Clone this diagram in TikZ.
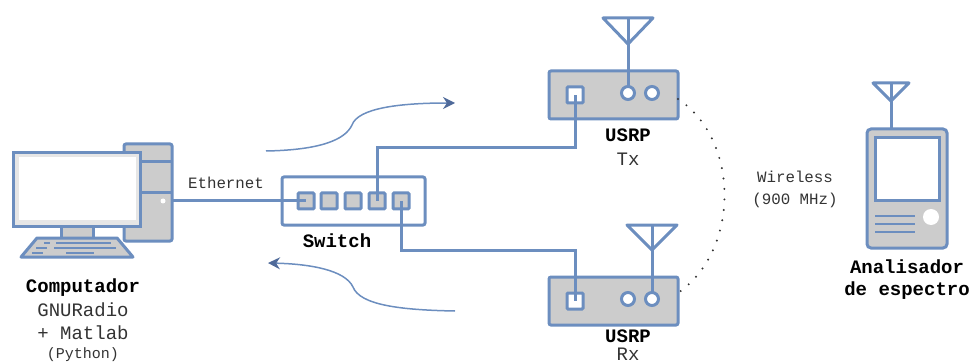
\documentclass[tikz,border=0pt]{standalone}
\usepackage{fontspec}
\setmonofont{Liberation Mono}
\usetikzlibrary{arrows.meta}
\definecolor{edge}{HTML}{6C8EBF}
\definecolor{flow}{HTML}{4F6A9A}
\definecolor{body}{HTML}{CCCCCC}
\definecolor{txt}{HTML}{333333}
\tikzset{
  every node/.style={inner sep=0pt, outer sep=0pt},
  unit/.style={draw=edge, fill=body, line width=3pt, rounded corners=2pt},
  box/.style={unit, minimum width=#1, minimum height=48pt},
  port/.style={unit, rounded corners=1pt, minimum size=16pt},
  hole/.style={port, fill=white},
  jack/.style={draw=edge, fill=white, line width=3pt, circle, minimum size=13pt},
  wire/.style={draw=edge, line width=3pt},
  flowline/.style={draw=edge, line width=1.5pt, -{Stealth[length=12pt,width=12pt,color=flow]}},
  titletxt/.style={font=\fontsize{19}{19}\selectfont\ttfamily\bfseries, text=black},
  subtxt/.style={font=\fontsize{19}{19}\selectfont\ttfamily, text=txt},
  smalltxt/.style={font=\fontsize{15.8}{16}\selectfont\ttfamily, text=txt}
}
\begin{document}
\begin{tikzpicture}[x=1pt,y=-1pt]
  \useasboundingbox (0,0) rectangle (973,363);
  % computer
  \node[unit, minimum width=48pt, minimum height=97pt] (tower) at (148,192.5) {};
  \draw[wire] (tower.west |- 0,162) -- (tower.east |- 0,162);
  \draw[wire] (tower.west |- 0,193) -- (tower.east |- 0,193);
  \fill[white] (163,201) circle (2.5);
  \fill[body, draw=edge, line width=3pt] (61,226) rectangle (93,238);
  \node[draw=edge, fill=body!50!white, line width=3pt, minimum width=127pt, minimum height=73pt] (monitor) at (76.5,189.5) {};
  \node[fill=white, minimum width=117pt, minimum height=63pt] at (77.5,189) {};
  \draw[unit, rounded corners=0pt, line join=round] (37,238) -- (117,238) -- (133,257) -- (21,257) -- cycle;
  \foreach \xa/\xb/\ya in {44/50/243, 56/111/243, 36/47/248, 54/116/248, 32/43/253, 66/94/253}
    \draw[edge, line width=2.5pt] (\xa,\ya) -- (\xb,\ya);
  % switch
  \node[draw=edge, fill=white, line width=3pt, rounded corners=2pt, minimum width=143pt, minimum height=48pt] (switch) at (353.5,201) {};
  \node[port] (p1) at (306,201) {};
  \node[port] (p2) at (329,201) {};
  \node[port] (p3) at (353,201) {};
  \node[port] (p4) at (377,201) {};
  \node[port] (p5) at (401,201) {};
  % usrp tx
  \node[box=129pt] (tx) at (613.5,95) {};
  \node[hole] (txport) at (575,95) {};
  \node[jack] (txa) at (628,93) {};
  \node[jack] (txb) at (652,93) {};
  \coordinate (txtop) at (628,18);
  \draw[wire, line join=round] (603,18) -- (653,18) -- (628,44) -- cycle;
  \draw[wire] (txtop) -- (txa);
  % usrp rx
  \node[box=129pt] (rx) at (613.5,301) {};
  \node[hole] (rxport) at (575,301) {};
  \node[jack] (rxa) at (628,299) {};
  \node[jack] (rxb) at (652,299) {};
  \coordinate (rxtop) at (652,225);
  \draw[wire, line join=round] (627,225) -- (677,225) -- (652,250) -- cycle;
  \draw[wire] (rxtop) -- (rxb);
  % analyser
  \node[unit, rounded corners=4pt, minimum width=80pt, minimum height=119pt] (analyser) at (907,188.5) {};
  \node[draw=edge, fill=white, line width=3pt, minimum width=64pt, minimum height=63pt] (screen) at (907,169.5) {};
  \foreach \ya in {216,224,232}
    \draw[edge, line width=2pt] (875,\ya) -- (915,\ya);
  \fill[white] (931,217) circle (8);
  \coordinate (antop) at (891,83);
  \draw[wire, line join=round] (873,83) -- (909,83) -- (891,101) -- cycle;
  \draw[wire] (antop) -- (891,129);
  % connections
  \draw[wire] (tower.east |- p1) -- (p1.center);
  \draw[wire] (p4.center) -- (p4 |- 0,148) -| (txport.center);
  \draw[wire] (p5.center) -- (p5 |- 0,250) -| (rxport.center);
  % data flow
  \coordinate (upa) at (266,151);
  \coordinate (upb) at (455,103);
  \coordinate (downa) at (455,311);
  \coordinate (downb) at (268,263);
  \draw[flowline] (upa) .. controls (320,150) and (345,140) .. (352,125) .. controls (358,108) and (400,103) .. (upb);
  \draw[flowline] (downa) .. controls (400,310) and (360,305) .. (353,287) .. controls (345,270) and (310,264) .. (downb);
  % wireless link
  \draw[black!80, line width=2.2pt, line cap=round, dash pattern=on 0pt off 10.5pt]
    (tx.east |- 0,99) .. controls (740,140) and (740,250) .. (rx.east |- 0,293);
  % labels
  \node[titletxt] (pclabel) at (83,288) {Computador};
  \node[subtxt] (pcsw) at (83,310) {GNURadio};
  \node[subtxt] (pcsw2) at (83,333) {+ Matlab};
  \node[smalltxt, font=\fontsize{15}{15}\selectfont\ttfamily] (pcsw3) at (83,355) {(Python)};
  \node[smalltxt] (eth) at (226,183) {Ethernet};
  \node[titletxt] (swlabel) at (337,241) {Switch};
  \node[titletxt] (txlabel) at (628,135) {USRP};
  \node[subtxt] (txname) at (628,159) {Tx};
  \node[titletxt] (rxlabel) at (628,336) {USRP};
  \node[subtxt] (rxname) at (628,354) {Rx};
  \node[smalltxt] (wlabel) at (795,177) {Wireless};
  \node[smalltxt] (wfreq) at (795,200) {(900 MHz)};
  \node[titletxt] (anlabel) at (907,267) {Analisador};
  \node[titletxt] (anlabel2) at (907,291) {de espectro};
\end{tikzpicture}
\end{document}
